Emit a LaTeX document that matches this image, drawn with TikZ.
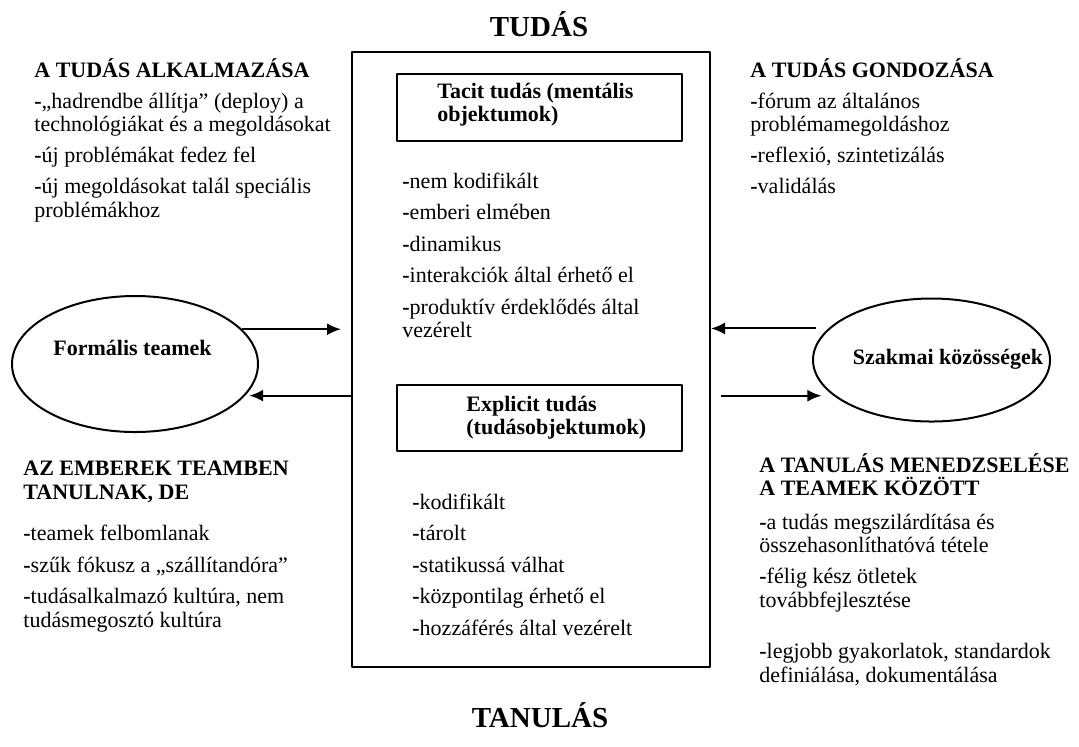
\documentclass[tikz,border=0pt]{standalone}
\usepackage{fontspec}
\setmainfont{Liberation Serif}
\usetikzlibrary{shapes.geometric,arrows.meta,positioning}

\newcommand{\dsh}{\textbf{-}}
\newcommand{\topstr}{\rule{0pt}{10pt}}

\begin{document}
\begin{tikzpicture}[x=0.5pt, y=-0.5pt, line join=bevel,
                blocktxt/.style={anchor=north west, inner sep=0pt, align=left, font=\fontsize{11}{11.75}\selectfont},
                boldtxt/.style={blocktxt, font=\fontsize{11}{11.75}\selectfont\bfseries},
                titletxt/.style={anchor=base, inner sep=0pt, font=\fontsize{14.5}{17}\selectfont\bfseries},
                framebox/.style={draw, line width=1pt, inner sep=0pt},
                teamshape/.style={ellipse, draw, line width=1pt, inner sep=0pt},
                teamtxt/.style={anchor=base, inner sep=0pt, font=\fontsize{11}{12}\selectfont\bfseries},
                flowarrow/.style={line width=1pt, -{Latex[length=7pt, width=6pt]}}]
            \useasboundingbox (0,0) rectangle (1079,746);
            % Titles
            \node[titletxt] (tudas) at (539,36) {TUDÁS};
            \node[titletxt] (tanulas) at (540,727) {TANULÁS};

            % Middle frame
            \node[framebox, minimum width=179pt, minimum height=307.5pt] (knowbox) at (531,359.5) {};
            \node[framebox, minimum width=142.5pt, minimum height=33.5pt] (tacitbox) at (539.5,107.5) {};
            \node[framebox, minimum width=142.5pt, minimum height=33pt] (explbox) at (539.5,418) {};
            \node[boldtxt] (tacithead) at ([xshift=20.5pt, yshift=-2.5pt]tacitbox.north west) {\topstr Tacit tudás (mentális\\objektumok)};
            \node[boldtxt] (explhead) at ([xshift=35pt, yshift=-3.5pt]explbox.north west) {\topstr Explicit tudás\\(tudásobjektumok)};
            \node[blocktxt] (tacitlist) at (402,168) {\topstr\dsh nem kodifikált\\[4pt]
                \dsh emberi elmében\\[4pt]
                \dsh dinamikus\\[4pt]
                \dsh interakciók által érhető el\\[4pt]
                \dsh produktív érdeklődés által\\vezérelt};
            \node[blocktxt] (expllist) at (412,489) {\topstr\dsh kodifikált\\[4pt]
                \dsh tárolt\\[4pt]
                \dsh statikussá válhat\\[4pt]
                \dsh központilag érhető el\\[4pt]
                \dsh hozzáférés által vezérelt};

            % Side texts
            \node[blocktxt] (apply) at (34,57) {\topstr\textbf{A TUDÁS ALKALMAZÁSA}\\[3.75pt]
                \dsh „hadrendbe állítja” (deploy) a\\technológiákat és a megoldásokat\\[3.75pt]
                \dsh új problémákat fedez fel\\[3.75pt]
                \dsh új megoldásokat talál speciális\\problémákhoz};
            \node[blocktxt] (care) at (750,57) {\topstr\textbf{A TUDÁS GONDOZÁSA}\\[3.75pt]
                \dsh fórum az általános\\problémamegoldáshoz\\[3.75pt]
                \dsh reflexió, szintetizálás\\[3.75pt]
                \dsh validálás};
            \node[blocktxt] (teams) at (23,455) {\topstr\textbf{AZ EMBEREK TEAMBEN}\\[0.25pt]
                \textbf{TANULNAK, DE}\\[9pt]
                \dsh teamek felbomlanak\\[4pt]
                \dsh szűk fókusz a „szállítandóra”\\[4pt]
                \dsh tudásalkalmazó kultúra, nem\\tudásmegosztó kultúra};
            \node[blocktxt] (manage) at (759,452) {\topstr\textbf{A TANULÁS MENEDZSELÉSE}\\
                \textbf{A TEAMEK KÖZÖTT}\\[5pt]
                \dsh a tudás megszilárdítása és\\összehasonlíthatóvá tétele\\[3.75pt]
                \dsh félig kész ötletek\\továbbfejlesztése\\[14pt]
                \dsh legjobb gyakorlatok, standardok\\definiálása, dokumentálása};

            % Ellipses
            \node[teamshape, minimum width=123pt, minimum height=68pt] (formal) at (135,364) {};
            \node[teamtxt] (formaltxt) at ([xshift=-1.25pt, yshift=4.5pt]formal.center) {Formális teamek};
            \node[teamshape, minimum width=118.5pt, minimum height=61.5pt] (prof) at (931.5,360) {};
            \node[teamtxt] (proftxt) at ([xshift=8.25pt, yshift=-2pt]prof.center) {Szakmai közösségek};

            % Arrows
            \draw[flowarrow, shorten >=5pt] (formal.18) -- (formal.18 -| knowbox.west);
            \draw[flowarrow, shorten >=2pt] (formal.-16 -| knowbox.west) -- (formal.-16);
            \draw[flowarrow, shorten <=6pt] (prof.163) -- (prof.163 -| knowbox.east);
            \draw[flowarrow, shorten <=5pt, shorten >=6pt] (prof.200 -| knowbox.east) -- (prof.200);
\end{tikzpicture}
\end{document}
